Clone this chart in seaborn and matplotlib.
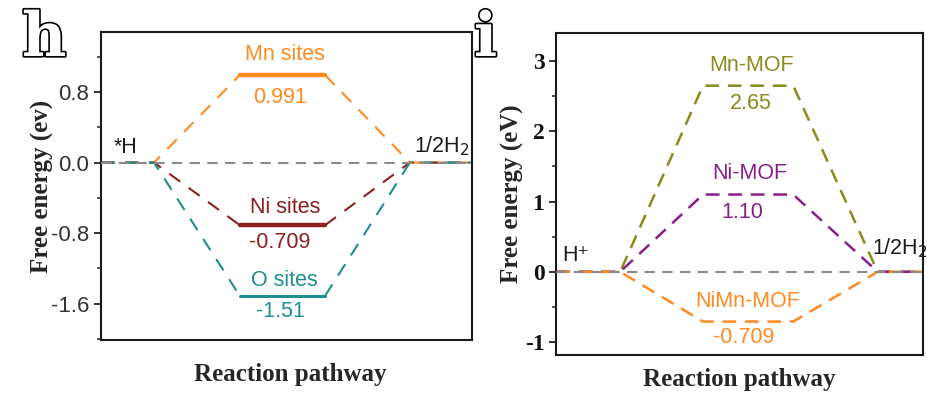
import numpy as np
import pandas as pd
import matplotlib
matplotlib.use("Agg")
import matplotlib.pyplot as plt
import matplotlib.patheffects as pe
import seaborn as sns

# ---------------- data ----------------
left_series = ["Mn sites", "Ni sites", "O sites"]
left_values = [0.991, -0.709, -1.51]
left_value_labels = ["0.991", "-0.709", "-1.51"]
left_start_label = "*H"
left_end_label = "1/2H$_2$"
left_yticks = [-1.6, -0.8, 0.0, 0.8]

right_series = ["Mn-MOF", "Ni-MOF", "NiMn-MOF"]
right_values = [2.65, 1.10, -0.709]
right_value_labels = ["2.65", "1.10", "-0.709"]
right_start_label = "H\u207a"
right_end_label = "1/2H$_2$"
right_yticks = [-1, 0, 1, 2, 3]

xlabel = "Reaction pathway"
left_ylabel = "Free energy (ev)"
right_ylabel = "Free energy (eV)"

# ---------------- style / layout ----------------
left_colors = ["#FF8A1F", "#8E1F1F", "#1E8E8E"]
right_colors = ["#8A8A1E", "#8A1E8A", "#FF8A1F"]
left_steps = [0, 1.0, 2.62, 4.23, 5.83, 7.0]
right_steps = [0, 1.22, 2.8, 4.52, 6.13, 7.0]
SERIF = ["Liberation Serif", "DejaVu Serif"]
SANS = ["Liberation Sans", "DejaVu Sans"]

sns.set_theme(style="ticks")
plt.rcParams["font.family"] = SANS

fig = plt.figure(figsize=(9.27, 3.97), dpi=100)
axL = fig.add_axes([0.109, 0.1436, 0.400, 0.776])
axR = fig.add_axes([0.600, 0.1058, 0.396, 0.811])


def path_df(steps, v):
    return pd.DataFrame({"x": steps, "y": [0, 0, v, v, 0, 0]})


def draw_panel(ax, steps, values, colors, solid_mid, dash, lw):
    zero = pd.DataFrame({"x": [steps[0], steps[-1]], "y": [0, 0]})
    for v, c in zip(values, colors):
        df = path_df(steps, v)
        if solid_mid:
            for part in (df.iloc[0:3], df.iloc[3:6]):
                sns.lineplot(data=part, x="x", y="y", ax=ax, color=c, lw=lw,
                             sort=False, estimator=None, linestyle=(0, dash))
            mid = df.iloc[2:4]
            sns.lineplot(data=mid, x="x", y="y", ax=ax, color=c,
                         lw=3.2 if v > -1.0 else 2.2, sort=False, estimator=None)
        else:
            sns.lineplot(data=df, x="x", y="y", ax=ax, color=c, lw=lw,
                         sort=False, estimator=None, linestyle=(0, dash))
    sns.lineplot(data=zero, x="x", y="y", ax=ax, color="#8a8a8a", lw=1.5,
                 sort=False, estimator=None, linestyle=(0, (5, 3.5)), zorder=5)
    ax.set_xlim(steps[0], steps[-1])
    ax.set_xticks([])
    for s in ax.spines.values():
        s.set_visible(True)
        s.set_linewidth(1.5)
        s.set_color("#1a1a1a")
    ax.tick_params(axis="y", which="major", direction="out", length=5, width=1.3)
    ax.tick_params(axis="y", which="minor", direction="out", length=3, width=1.1)


# ---- left panel ----
draw_panel(axL, left_steps, left_values, left_colors, True, (6.5, 5), 1.5)
axL.set_ylim(-2.01, 1.48)
axL.set_yticks(left_yticks)
axL.set_yticklabels([f"{t:.1f}" for t in left_yticks], family=SANS, fontsize=16,
                    color="#333333")
axL.set_yticks(np.arange(-2.0, 1.5, 0.4), minor=True)
axL.set_xlabel(xlabel, family=SERIF, fontweight="bold", fontsize=18)
axL.set_ylabel(left_ylabel, family=SERIF, fontweight="bold", fontsize=18)
axL.yaxis.set_label_coords(-0.128, 0.5)
axL.xaxis.set_label_coords(0.51, -0.075)

name_off = [0.23, 0.20, 0.17]
val_off = [-0.25, -0.20, -0.18]
for i, (n, v, vl, c) in enumerate(zip(left_series, left_values, left_value_labels, left_colors)):
    axL.text(3.47, v + name_off[i], n, color=c, fontsize=15.5, ha="center", va="center",
             family=SANS)
    axL.text(3.38, v + val_off[i], vl, color=c, fontsize=15.5, ha="center", va="center",
             family=SANS)
axL.text(0.47, 0.17, left_start_label, fontsize=15.5, ha="center", va="center",
         color="#1a1a1a", family=SANS)
axL.text(5.9, 0.18, left_end_label, fontsize=15.5, ha="left", va="center",
         color="#1a1a1a", family=SANS)

# ---- right panel ----
draw_panel(axR, right_steps, right_values, right_colors, False, (5.5, 3.5), 1.8)
axR.set_ylim(-1.185, 3.40)
axR.set_yticks(right_yticks)
axR.set_yticklabels([str(t) for t in right_yticks], family=SERIF, fontweight="bold",
                    fontsize=17, color="#111111")
axR.set_yticks(np.arange(-1.0, 3.5, 0.5), minor=True)
axR.set_xlabel(xlabel, family=SERIF, fontweight="bold", fontsize=18)
axR.set_ylabel(right_ylabel, family=SERIF, fontweight="bold", fontsize=18)
axR.yaxis.set_label_coords(-0.088, 0.5)
axR.xaxis.set_label_coords(0.5, -0.04)

rname_y = [2.94, 1.40, -0.43]
rval_y = [2.40, 0.85, -0.94]
rname_x = [3.72, 3.70, 3.66]
rval_x = [3.72, 3.55, 3.57]
for i, (n, vl, c) in enumerate(zip(right_series, right_value_labels, right_colors)):
    axR.text(rname_x[i], rname_y[i], n, color=c, fontsize=15.5, ha="center", va="center",
             family=SANS)
    axR.text(rval_x[i], rval_y[i], vl, color=c, fontsize=15.5, ha="center", va="center",
             family=SANS)
axR.text(0.38, 0.23, right_start_label, fontsize=15.5, ha="center", va="center",
         color="#1a1a1a", family=SANS)
axR.text(6.02, 0.34, right_end_label, fontsize=15.5, ha="left", va="center",
         color="#1a1a1a", family=SANS)

# ---- panel letters ----
for x, y, s in [(22 / 927, 1 - 56 / 397, "h"), (474 / 927, 1 - 56 / 397, "i")]:
    fig.text(x, y, s, fontsize=44, family=["DejaVu Serif"], fontweight="bold",
             color="white", ha="left", va="baseline",
             path_effects=[pe.withStroke(linewidth=2.4, foreground="black")])

fig.savefig("out.png", dpi=100)
